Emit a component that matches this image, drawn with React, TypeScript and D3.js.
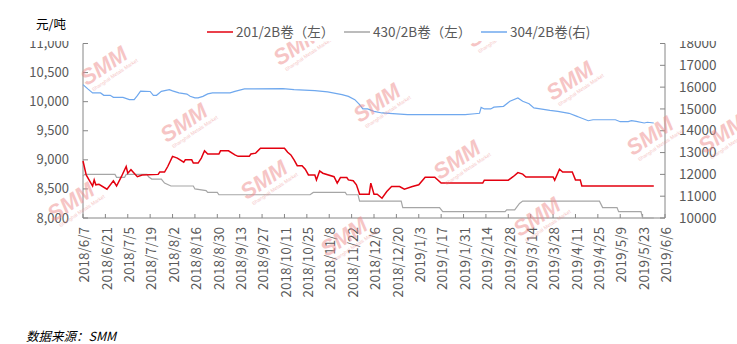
import React from "react";
import * as d3 from "d3";

const dates201 = ["2018-06-07","2018-06-09","2018-06-13","2018-06-14","2018-06-15","2018-06-17","2018-06-22","2018-06-26","2018-06-28","2018-07-01","2018-07-04","2018-07-05","2018-07-07","2018-07-09","2018-07-11","2018-07-14","2018-07-24","2018-07-25","2018-07-28","2018-07-30","2018-08-02","2018-08-05","2018-08-09","2018-08-10","2018-08-14","2018-08-15","2018-08-18","2018-08-20","2018-08-22","2018-08-24","2018-08-31","2018-09-01","2018-09-06","2018-09-10","2018-09-12","2018-09-19","2018-09-20","2018-09-23","2018-09-26","2018-10-11","2018-10-13","2018-10-15","2018-10-17","2018-10-19","2018-10-22","2018-10-24","2018-10-26","2018-10-30","2018-10-31","2018-11-02","2018-11-04","2018-11-11","2018-11-13","2018-11-15","2018-11-19","2018-11-20","2018-11-23","2018-11-25","2018-11-27","2018-12-03","2018-12-04","2018-12-06","2018-12-08","2018-12-11","2018-12-14","2018-12-17","2018-12-22","2018-12-25","2018-12-30","2019-01-03","2019-01-07","2019-01-13","2019-01-17","2019-02-12","2019-02-13","2019-02-28","2019-03-03","2019-03-06","2019-03-09","2019-03-11","2019-03-28","2019-03-29","2019-04-01","2019-04-03","2019-04-09","2019-04-11","2019-04-14","2019-04-15","2019-05-30"];
const values201 = [8980,8740,8550,8655,8570,8580,8495,8640,8550,8710,8885,8770,8830,8770,8710,8740,8750,8790,8790,8885,9060,9030,8960,9000,9000,8945,8945,9030,9155,9100,9100,9155,9155,9085,9060,9060,9100,9115,9200,9200,9130,9085,9000,8900,8900,8840,8740,8740,8655,8810,8770,8710,8600,8695,8695,8655,8640,8570,8410,8410,8600,8410,8410,8340,8455,8540,8540,8495,8540,8570,8700,8700,8600,8600,8650,8650,8710,8780,8755,8705,8705,8650,8840,8790,8790,8655,8655,8550,8550];

const dates430 = ["2018-06-07","2018-06-08","2018-06-27","2018-06-28","2018-07-03","2018-07-04","2018-07-17","2018-07-18","2018-07-20","2018-07-26","2018-07-28","2018-08-01","2018-08-15","2018-08-16","2018-08-23","2018-08-24","2018-08-30","2018-08-31","2018-10-27","2018-10-29","2018-11-18","2018-11-19","2018-11-26","2018-11-27","2018-12-23","2018-12-24","2019-01-16","2019-01-18","2019-02-26","2019-02-27","2019-03-04","2019-03-07","2019-03-09","2019-04-26","2019-04-28","2019-05-07","2019-05-08","2019-05-22","2019-05-23","2019-05-30"];
const values430 = [8720,8750,8750,8700,8700,8750,8750,8710,8670,8670,8600,8550,8550,8500,8470,8440,8440,8400,8400,8440,8440,8400,8400,8290,8290,8180,8180,8110,8110,8140,8140,8250,8290,8290,8180,8180,8110,8110,8000,8000];

const dates304 = ["2018-06-07","2018-06-10","2018-06-13","2018-06-18","2018-06-20","2018-06-24","2018-06-26","2018-07-02","2018-07-06","2018-07-09","2018-07-11","2018-07-13","2018-07-19","2018-07-21","2018-07-23","2018-07-26","2018-07-31","2018-08-02","2018-08-06","2018-08-11","2018-08-13","2018-08-16","2018-08-18","2018-08-21","2018-08-24","2018-08-27","2018-09-07","2018-09-10","2018-09-16","2018-10-10","2018-10-17","2018-10-30","2018-11-07","2018-11-16","2018-11-20","2018-11-24","2018-11-27","2018-11-29","2018-12-02","2018-12-06","2018-12-11","2018-12-27","2019-02-01","2019-02-07","2019-02-10","2019-02-11","2019-02-13","2019-02-17","2019-02-19","2019-02-25","2019-03-01","2019-03-06","2019-03-09","2019-03-13","2019-03-16","2019-03-20","2019-03-26","2019-03-31","2019-04-07","2019-04-12","2019-04-13","2019-04-19","2019-04-22","2019-05-06","2019-05-09","2019-05-14","2019-05-16","2019-05-19","2019-05-24","2019-05-26","2019-05-30"];
const values304 = [16115,15920,15735,15735,15625,15625,15530,15530,15425,15425,15610,15820,15800,15625,15625,15805,15885,15830,15735,15680,15580,15505,15505,15575,15690,15735,15735,15805,15920,15930,15885,15840,15780,15655,15575,15425,15195,15000,15000,14890,14815,14735,14735,14780,14800,15070,15000,15000,15080,15120,15350,15505,15350,15240,15045,15000,14935,14890,14800,14660,14630,14460,14505,14505,14415,14415,14460,14430,14355,14390,14355];

const leftTicks = [8000, 8500, 9000, 9500, 10000, 10500, 11000];
const rightTicks = [10000, 11000, 12000, 13000, 14000, 15000, 16000, 17000, 18000];
const xStart = "2018-06-07";
const xEnd = "2019-06-06";
const xTickStepDays = 14;

const legendItems = [
  { name: "201/2B卷（左）", color: "#e3000f" },
  { name: "430/2B卷（左）", color: "#a6a6a6" },
  { name: "304/2B卷(右)", color: "#6fa8ee" },
];

const watermarkSpots = [
  [108, 72], [188, 129], [268, 186], [348, 243], [75, 208],
  [301, 52], [381, 109], [461, 166], [541, 223],
  [494, 34], [574, 87], [654, 142], [726, 140],
];

const parse = d3.timeParse("%Y-%m-%d");
const fmt = (d: Date) => `${d.getFullYear()}/${d.getMonth() + 1}/${d.getDate()}`;

export default function App() {
  const W = 737, H = 344;
  const left = 83, right = 665, top = 43.5, bottom = 218;
  const font = "'Noto Sans CJK SC', 'Noto Sans', sans-serif";
  const x = d3.scaleTime().domain([parse(xStart)!, parse(xEnd)!]).range([left, right]);
  const yL = d3.scaleLinear().domain([8000, 11000]).range([bottom, top]);
  const yR = d3.scaleLinear().domain([10000, 18000]).range([bottom, top]);
  const xTicks = d3.range(0, 27).map((i) => d3.timeDay.offset(parse(xStart)!, i * xTickStepDays));

  const lineL = d3.line<[Date, number]>().x((d) => x(d[0])).y((d) => yL(d[1]));
  const lineR = d3.line<[Date, number]>().x((d) => x(d[0])).y((d) => yR(d[1]));
  const s201 = dates201.map((d, i) => [parse(d)!, values201[i]] as [Date, number]);
  const s430 = dates430.map((d, i) => [parse(d)!, values430[i]] as [Date, number]);
  const s304 = dates304.map((d, i) => [parse(d)!, values304[i]] as [Date, number]);
  const axisColor = "#868686";
  const textColor = "#595959";
  const legendX = [207, 344, 481];

  return (
    <svg width={W} height={H} style={{ position: "fixed", left: 0, top: 0, background: "#fff" }} fontFamily={font}>
      <rect width={W} height={H} fill="#fff" />
      {/* left axis */}
      <line x1={left} x2={left} y1={top} y2={bottom} stroke={axisColor} />
      {leftTicks.map((t) => (
        <g key={"l" + t}>
          <line x1={left} x2={left + 5} y1={yL(t)} y2={yL(t)} stroke={axisColor} />
          <text x={69} y={yL(t)} dy="0.35em" textAnchor="end" fontSize={13} fill={textColor}>{d3.format(",")(t)}</text>
        </g>
      ))}
      {/* right axis */}
      <line x1={right} x2={right} y1={top} y2={bottom} stroke={axisColor} />
      {rightTicks.map((t) => (
        <g key={"r" + t}>
          <line x1={right - 5} x2={right} y1={yR(t)} y2={yR(t)} stroke={axisColor} />
          <text x={679} y={yR(t)} dy="0.35em" textAnchor="start" fontSize={13.5} fill={textColor}>{t}</text>
        </g>
      ))}
      {/* x axis */}
      <line x1={left} x2={right} y1={bottom} y2={bottom} stroke={axisColor} />
      {xTicks.map((t, i) => (
        <g key={"x" + i}>
          <line x1={x(t)} x2={x(t)} y1={bottom - 4} y2={bottom} stroke={axisColor} />
          <text transform={`translate(${x(t) + 1.5},227) rotate(-90)`} dy="0.35em" textAnchor="end" fontSize={13.5} fill={textColor}>{fmt(t)}</text>
        </g>
      ))}
      {/* series */}
      <path d={lineL(s430)!} fill="none" stroke="#a6a6a6" strokeWidth={1.2} />
      <path d={lineR(s304)!} fill="none" stroke="#6fa8ee" strokeWidth={1.2} />
      <path d={lineL(s201)!} fill="none" stroke="#e3000f" strokeWidth={1.5} />
      {/* watermarks */}
      {watermarkSpots.map(([wx, wy], i) => (
        <g key={"w" + i} transform={`translate(${wx},${wy}) rotate(-34)`} opacity={0.5}>
          <text x={0} y={0} textAnchor="middle" fontFamily="'Liberation Sans', Arial, sans-serif" fontWeight={900} fontStyle="italic" fontSize={22} fill="#ee8c8c">SMM</text>
          <text x={4} y={8} textAnchor="middle" fontFamily="'Liberation Sans', Arial, sans-serif" fontSize={5} fill="#ee8c8c">Shanghai Metals Market</text>
        </g>
      ))}
      {/* title area and legend on white */}
      <rect x={0} y={0} width={W} height={41} fill="#fff" />
      <text x={36} y={25} dy="0.35em" fontSize={12.5} fill="#000">元/吨</text>
      {legendItems.map((item, i) => (
        <g key={"lg" + i}>
          <line x1={legendX[i]} x2={legendX[i] + 26} y1={32} y2={32} stroke={item.color} strokeWidth={1.5} />
          <text x={legendX[i] + 29} y={32} dy="0.35em" fontSize={13.5} fill={textColor}>{item.name}</text>
        </g>
      ))}
      <text x={26} y={337} dy="0.35em" fontSize={12.5} fontStyle="italic" fill="#000">数据来源：SMM</text>
    </svg>
  );
}
